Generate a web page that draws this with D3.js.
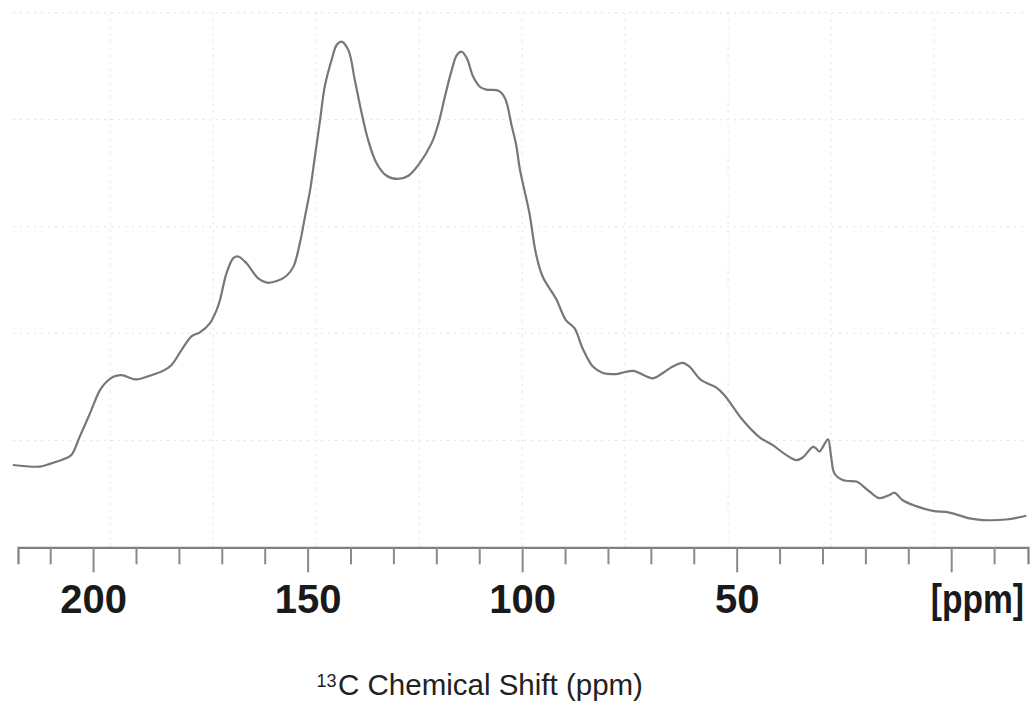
<!DOCTYPE html>
<html>
<head>
<meta charset="utf-8">
<script src="https://cdn.jsdelivr.net/npm/d3@7"></script>
<style>
  html, body { margin: 0; padding: 0; background: #fff; }
  svg { display: block; }
</style>
</head>
<body>
<svg id="chart" width="1036" height="702"></svg>
<script>
// 13C solid-state NMR spectrum: chemical shift (ppm) vs. intensity (a.u.)
const shiftPpm = [
  218.7, 212.4, 210.1, 206.2, 205.0, 203.1, 200.7, 198.4, 196.8, 195.3,
  193.4, 189.9, 186.8, 183.7, 181.7, 179.4, 177.0, 175.1, 172.8, 171.2,
  170.4, 168.9, 167.3, 166.2, 164.2, 161.5, 159.5, 157.2, 154.9, 153.3,
  151.8, 150.6, 149.4, 148.3, 147.1, 146.0, 144.4, 143.2, 142.1, 140.5,
  139.0, 137.4, 135.9, 133.9, 131.6, 128.9, 126.5, 124.2, 121.1, 119.5,
  118.0, 116.4, 115.2, 114.1, 112.9, 111.4, 109.8, 108.3, 105.5, 104.0,
  102.4, 101.4, 100.5, 98.3, 96.8, 95.2, 92.1, 89.8, 87.8, 85.9,
  83.5, 81.2, 78.1, 74.2, 69.5, 67.2, 64.9, 62.6, 61.0, 58.3,
  54.8, 52.9, 48.6, 44.7, 41.6, 38.5, 36.1, 34.6, 32.2, 31.5,
  30.7, 29.9, 28.7, 28.0, 27.2, 25.3, 22.1, 21.4, 19.0, 16.7,
  14.4, 13.2, 11.3, 8.2, 4.3, 0.4, -4.3, -7.4, -12.8, -17.5
];
const intensity = [
  15.4, 15.1, 15.6, 16.7, 17.3, 20.7, 25.1, 29.4, 31.0, 31.9,
  32.2, 31.4, 32.1, 33.0, 34.1, 36.9, 39.5, 40.2, 41.9, 44.4,
  46.3, 51.3, 54.1, 54.4, 53.1, 50.3, 49.5, 49.8, 50.8, 52.5,
  56.9, 61.9, 66.9, 73.1, 79.9, 86.2, 91.2, 94.0, 94.6, 93.0,
  87.4, 81.2, 76.2, 71.8, 69.5, 68.9, 69.5, 71.5, 75.6, 79.3,
  84.3, 89.3, 92.1, 92.7, 91.5, 88.0, 86.1, 85.6, 85.4, 84.0,
  78.7, 75.3, 70.6, 62.5, 55.0, 50.6, 46.5, 42.5, 41.0, 37.2,
  33.8, 32.6, 32.4, 33.0, 31.6, 32.6, 33.8, 34.5, 33.8, 31.3,
  29.9, 28.5, 23.8, 20.6, 19.1, 17.3, 16.3, 16.8, 18.8, 18.5,
  17.9, 18.8, 20.2, 17.0, 13.8, 12.6, 12.3, 12.0, 10.4, 9.2,
  9.8, 10.2, 8.8, 7.7, 6.8, 6.5, 5.4, 5.1, 5.2, 5.9
];

// axis ticks every 10 ppm, labelled every 50 ppm
const tickPpm = d3.range(-10, 211, 10);
const labelPpm = [200, 150, 100, 50];
// background grid (ppm / intensity)
const gridPpm = [196, 172, 148, 124, 100, 76, 52, 28, 4];
const gridIntensity = [20, 40, 60, 80, 100];

const svg = d3.select("#chart");

const x = d3.scaleLinear().domain([217.5, -17.9]).range([18, 1028]);
const y = d3.scaleLinear().domain([0, 100]).range([547.3, 12.7]);

// faint dotted grid
const grid = svg.append("g")
  .attr("stroke", "#e6e6e6")
  .attr("stroke-width", 1.2)
  .attr("stroke-dasharray", "2,5");
grid.selectAll("line.h").data(gridIntensity).join("line")
  .attr("class", "h")
  .attr("x1", 13).attr("x2", 1028)
  .attr("y1", d => y(d)).attr("y2", d => y(d));
grid.selectAll("line.v").data(gridPpm).join("line")
  .attr("class", "v")
  .attr("x1", d => x(d)).attr("x2", d => x(d))
  .attr("y1", y(100)).attr("y2", y(0));

// spectrum trace
const pts = shiftPpm.map((p, i) => [p, intensity[i]]);
const line = d3.line()
  .x(d => x(d[0]))
  .y(d => y(d[1]))
  .curve(d3.curveCatmullRom.alpha(0.5));

svg.append("path")
  .datum(pts)
  .attr("fill", "none")
  .attr("stroke", "#777")
  .attr("stroke-width", 2.2)
  .attr("stroke-linejoin", "round")
  .attr("d", line);

// ppm axis
const axis = d3.axisBottom(x)
  .tickValues(tickPpm)
  .tickSizeOuter(0)
  .tickSize(17)
  .tickFormat(d => labelPpm.includes(d) ? d : "");

const gAxis = svg.append("g")
  .attr("transform", `translate(0,${y(0)})`)
  .call(axis);

gAxis.select(".domain")
  .attr("stroke", "#808080")
  .attr("stroke-width", 2.2);
gAxis.selectAll(".tick line")
  .attr("stroke", "#8a8a8a")
  .attr("stroke-width", 2)
  .attr("y2", d => d % 50 === 0 ? 25 : 17);
gAxis.selectAll(".tick text")
  .attr("y", 37)
  .attr("dy", "0.71em")
  .attr("fill", "#1a1a1a")
  .style("font-family", "'Liberation Sans', Arial, sans-serif")
  .style("font-weight", "bold")
  .style("font-size", "40px");

// unit label at the right end of the axis, slightly condensed
gAxis.append("g")
  .attr("transform", "translate(1024,37) scale(0.84,1)")
  .append("text")
  .attr("x", 0)
  .attr("y", 0)
  .attr("dy", "0.71em")
  .attr("text-anchor", "end")
  .attr("fill", "#1a1a1a")
  .style("font-family", "'Liberation Sans', Arial, sans-serif")
  .style("font-weight", "bold")
  .style("font-size", "40px")
  .text("[ppm]");

// axis title with superscript mass number
const title = svg.append("text")
  .attr("x", 316.5)
  .attr("y", 695)
  .attr("fill", "#222")
  .style("font-family", "'Liberation Sans', Arial, sans-serif")
  .style("font-size", "29.5px");
title.append("tspan")
  .style("font-size", "18px")
  .attr("dy", -8)
  .text("13");
title.append("tspan")
  .attr("dy", 8)
  .attr("dx", 1.5)
  .text("C Chemical Shift (ppm)");
</script>
</body>
</html>
